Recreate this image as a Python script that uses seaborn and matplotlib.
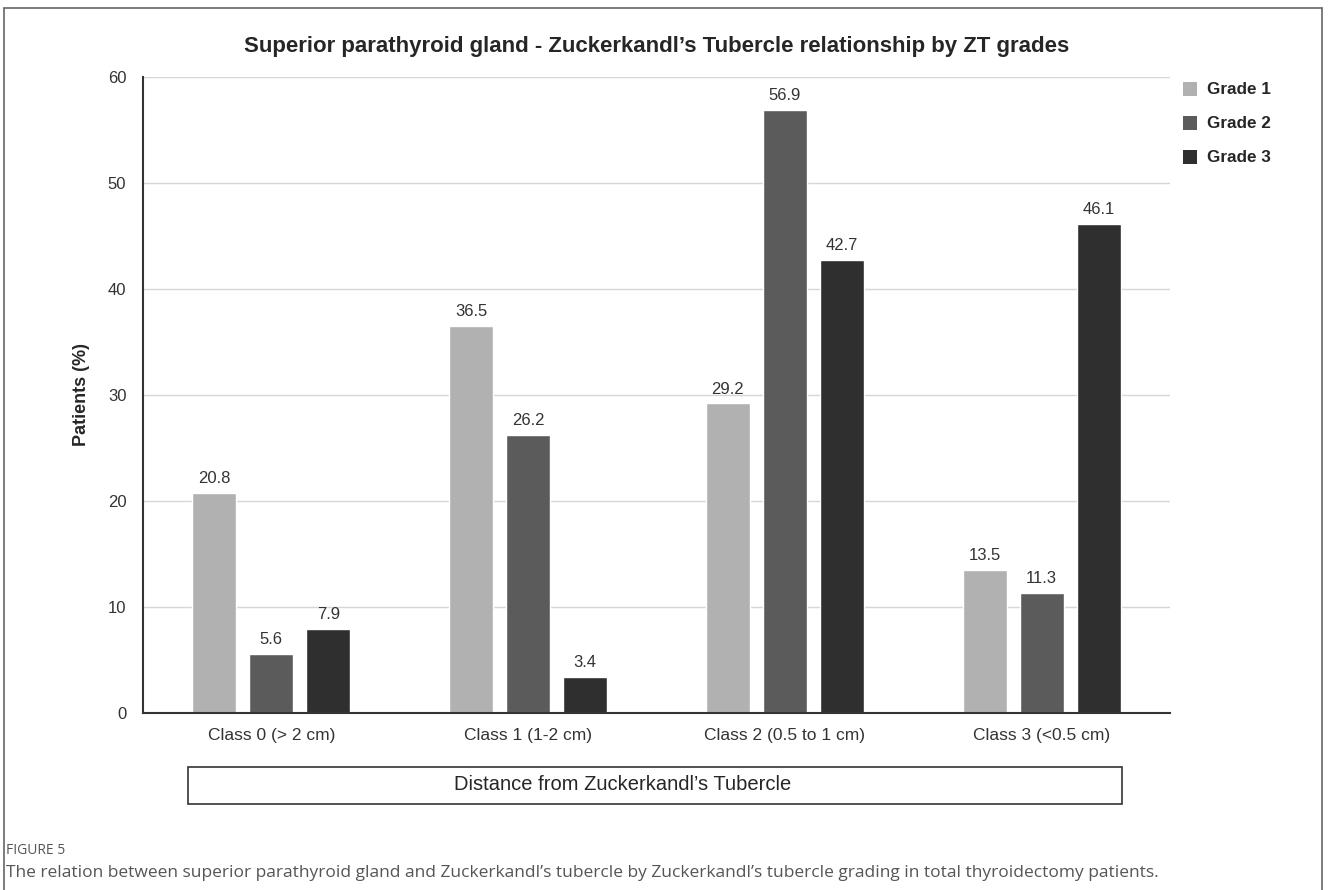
import matplotlib
matplotlib.use('Agg')
import matplotlib.pyplot as plt
import seaborn as sns
import pandas as pd
from matplotlib.patches import Rectangle

# data
classes = ['Class 0 (> 2 cm)', 'Class 1 (1-2 cm)', 'Class 2 (0.5 to 1 cm)', 'Class 3 (<0.5 cm)']
grades = ['Grade 1', 'Grade 2', 'Grade 3']
grade1 = [20.8, 36.5, 29.2, 13.5]
grade2 = [5.6, 26.2, 56.9, 11.3]
grade3 = [7.9, 3.4, 42.7, 46.1]
colors = ['#b1b1b1', '#5b5b5b', '#2f2f2f']

df = pd.DataFrame({
    'cls': classes * 3,
    'grade': [g for g in grades for _ in classes],
    'pct': grade1 + grade2 + grade3,
})

sns.set_theme(style='white')
plt.rcParams['font.family'] = ['Liberation Sans', 'DejaVu Sans']

fig = plt.figure(figsize=(13.28, 8.90), dpi=100)
ax = fig.add_axes([143 / 1328, 1 - 713 / 890, 1027 / 1328, 636 / 890])

sns.barplot(data=df, x='cls', y='pct', hue='grade', palette=colors,
            width=0.666, gap=0.23, ax=ax, legend=False, saturation=1)

for cont in ax.containers:
    ax.bar_label(cont, fmt='%.1f', padding=5, fontsize=12, color='#333333')

ax.set_ylim(0, 60)
ax.set_yticks(range(0, 61, 10))
ax.yaxis.grid(True, color='#d6d6d6', linewidth=1)
ax.set_axisbelow(True)
for s in ['top', 'right']:
    ax.spines[s].set_visible(False)
ax.spines['left'].set_color('#333333')
ax.spines['bottom'].set_color('#333333')
ax.spines['left'].set_linewidth(1.5)
ax.spines['bottom'].set_linewidth(1.5)
ax.tick_params(axis='x', length=0, labelsize=12.5, colors='#333333', pad=11)
ax.tick_params(axis='y', length=0, labelsize=12, colors='#333333', pad=12)
ax.set_xlabel('')
ax.set_ylabel('Patients (%)', fontsize=13, fontweight='bold', labelpad=13)

ax.set_title("Superior parathyroid gland - Zuckerkandl\u2019s Tubercle relationship by ZT grades",
             fontsize=16, fontweight='bold', pad=18)

# legend on the right
for i, (g, c) in enumerate(zip(grades, colors)):
    y = 1 - (89 + 34 * i) / 890
    fig.patches.append(Rectangle((1183 / 1328, y - 7 / 890), 14 / 1328, 14 / 890,
                                 transform=fig.transFigure, facecolor=c, edgecolor='none'))
    fig.text(1207 / 1328, y, g, fontsize=12.3, fontweight='bold', va='center', ha='left')

# box with the axis title
fig.patches.append(Rectangle((188 / 1328, 1 - 804 / 890), 934 / 1328, 37 / 890,
                             transform=fig.transFigure, facecolor='white',
                             edgecolor='#333333', linewidth=1.2))
fig.text(623 / 1328, 1 - 785 / 890, "Distance from Zuckerkandl\u2019s Tubercle",
         fontsize=14.5, ha='center', va='center')

# outer frame
fig.add_artist(plt.Line2D([4 / 1328, 4 / 1328], [0, 1 - 8 / 890], transform=fig.transFigure,
                          color='#666666', linewidth=1.2))
fig.add_artist(plt.Line2D([1322 / 1328, 1322 / 1328], [0, 1 - 8 / 890], transform=fig.transFigure,
                          color='#666666', linewidth=1.2))
fig.add_artist(plt.Line2D([4 / 1328, 1322 / 1328], [1 - 8 / 890, 1 - 8 / 890], transform=fig.transFigure,
                          color='#666666', linewidth=1.2))

# caption
fig.text(6 / 1328, 1 - 851 / 890, 'FIGURE 5', fontsize=10, color='#555555',
         family=['Open Sans', 'DejaVu Sans'], va='center')
fig.text(6 / 1328, 1 - 873 / 890,
         "The relation between superior parathyroid gland and Zuckerkandl\u2019s tubercle by Zuckerkandl\u2019s tubercle grading in total thyroidectomy patients.",
         fontsize=12.5, color='#555555', family=['Open Sans', 'DejaVu Sans'], va='center')

fig.savefig('out.png', dpi=100)
